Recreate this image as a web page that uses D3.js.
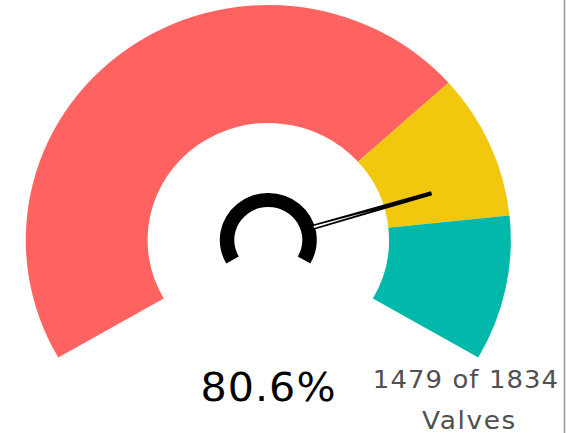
<!DOCTYPE html>
<html>
<head>
<meta charset="utf-8">
<script src="https://cdn.jsdelivr.net/npm/d3@7"></script>
<style>
  html, body { margin: 0; padding: 0; background: #fff; }
  svg { display: block; }
</style>
</head>
<body>
<div id="chart"></div>
<script>
// gauge data
const bandNames = ["bad", "warn", "good"];
const bandEnds = [0.70, 0.85, 1.00];
const bandColors = ["#FF6361", "#F2C80F", "#01B8AA"];
const valueCount = 1479;
const totalCount = 1834;
const unitLabel = "Valves";

const width = 566;
const height = 433;
const cx = 268.3, cy = 240;
const stretchX = 1.032;
const outerR = 235, innerR = 117;
const hubOuter = 47, hubInner = 33;
const needleStart = 46, needleEnd = 165;

const angle = d3.scaleLinear()
    .domain([0, 1])
    .range([-120 * Math.PI / 180, 120 * Math.PI / 180]);

const svg = d3.select("#chart")
    .append("svg")
    .attr("width", width)
    .attr("height", height);

const g = svg.append("g")
    .attr("transform", `translate(${cx},${cy}) scale(${stretchX},1)`);

const bands = bandNames.map((name, i) => ({
    name,
    start: i === 0 ? 0 : bandEnds[i - 1],
    end: bandEnds[i],
    color: bandColors[i]
}));

const bandArc = d3.arc()
    .innerRadius(innerR)
    .outerRadius(outerR)
    .startAngle(d => angle(d.start))
    .endAngle(d => angle(d.end));

g.append("g")
    .selectAll("path")
    .data(bands)
    .join("path")
    .attr("d", bandArc)
    .attr("fill", d => d.color);

// hub ring
g.append("path")
    .attr("d", d3.arc()
        .innerRadius(hubInner)
        .outerRadius(hubOuter)
        .startAngle(angle(0))
        .endAngle(angle(1))())
    .attr("fill", "#000");

// needle: solid wedge, hollow near the hub
const ratio = valueCount / totalCount;
const a = angle(ratio);
const ux = Math.sin(a), uy = -Math.cos(a);
const px = Math.cos(a), py = Math.sin(a);
const pt = (r, w) => [ux * r + px * w, uy * r + py * w];

g.append("path")
    .attr("d", d3.line()([pt(needleStart, 2.6), pt(needleEnd, 2.1), pt(needleEnd, -2.1), pt(needleStart, -2.6)]) + "Z")
    .attr("fill", "#000");

g.append("path")
    .attr("d", d3.line()([pt(needleStart, 1), pt(needleStart + 60, 0.2), pt(needleStart, -1)]) + "Z")
    .attr("fill", "#fff");

// labels
const label = (x, y, size, spacing, sx, fill, txt) => svg.append("text")
    .attr("transform", `translate(${x},${y}) scale(${sx},1)`)
    .attr("text-anchor", "middle")
    .attr("font-family", "DejaVu Sans, sans-serif")
    .attr("font-size", size)
    .attr("letter-spacing", spacing)
    .attr("fill", fill)
    .text(txt);

label(268.5, 400.5, 38.5, 1, 1.07, "#000", d3.format(".1%")(ratio));
label(466, 387.5, 24, 1, 1.08, "#505050", `${valueCount} of ${totalCount}`);
label(469.5, 428.5, 24, 1.5, 1.1, "#505050", unitLabel);

// right border
svg.append("line")
    .attr("x1", 564.5).attr("x2", 564.5)
    .attr("y1", 0).attr("y2", height)
    .attr("stroke", "#999")
    .attr("stroke-width", 1.5);
</script>
</body>
</html>
